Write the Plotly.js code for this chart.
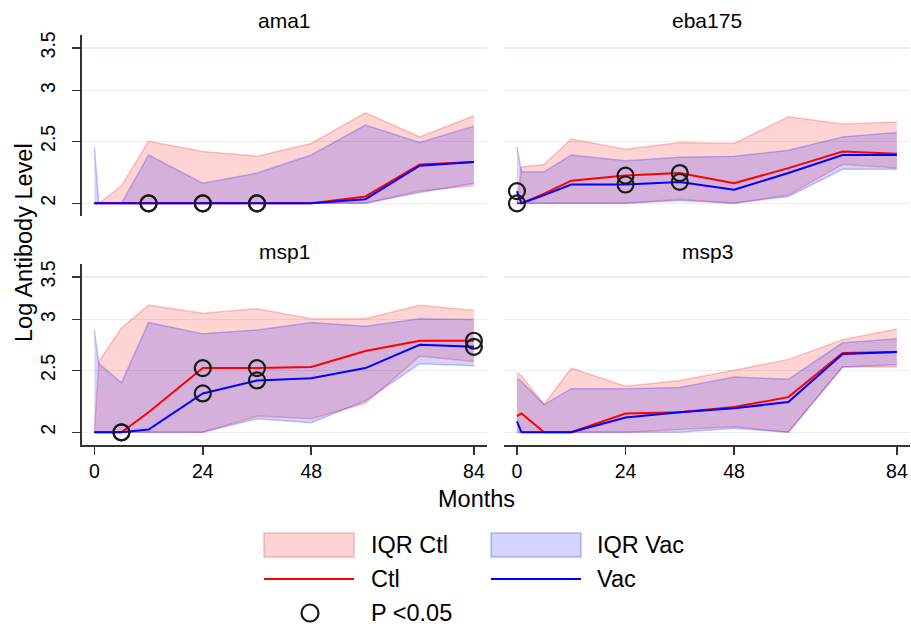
<!DOCTYPE html>
<html><head><meta charset="utf-8">
<script src="https://cdn.plot.ly/plotly-3.0.1.min.js"></script>
<style>html,body{margin:0;padding:0;background:#fff}#chart{width:911px;height:627px}</style>
</head><body><div id="chart"></div>
<script>
// ---- data ----
const months = [0, 1, 6, 12, 24, 36, 48, 60, 72, 84];
const panelNames = ['ama1', 'eba175', 'msp1', 'msp3'];

const ama1CtlLo  = [2, 2, 2, 2, 2, 2, 2, 2.00, 2.09, 2.13];
const ama1CtlHi  = [2.00, 2.00, 2.13, 2.50, 2.41, 2.37, 2.48, 2.77, 2.54, 2.74];
const ama1VacLo  = [2, 2, 2, 2, 2, 2, 2, 2.00, 2.08, 2.15];
const ama1VacHi  = [2.45, 2.00, 2.00, 2.38, 2.15, 2.23, 2.38, 2.65, 2.49, 2.64];
const ama1CtlMed = [2, 2, 2, 2, 2, 2, 2, 2.05, 2.30, 2.32];
const ama1VacMed = [2, 2, 2, 2, 2, 2, 2, 2.03, 2.29, 2.32];
const ama1Sig    = [12, 24, 36];

const eba175CtlLo  = [2, 2, 2, 2, 2, 2.03, 2.00, 2.06, 2.30, 2.27];
const eba175CtlHi  = [2.00, 2.28, 2.30, 2.52, 2.43, 2.49, 2.48, 2.73, 2.66, 2.68];
const eba175VacLo  = [2, 2, 2, 2, 2, 2.02, 2.00, 2.05, 2.26, 2.26];
const eba175VacHi  = [2.45, 2.24, 2.24, 2.38, 2.33, 2.36, 2.37, 2.42, 2.54, 2.58];
const eba175CtlMed = [2.00, 2.00, 2.07, 2.17, 2.21, 2.23, 2.15, 2.27, 2.41, 2.39];
const eba175VacMed = [2.09, 2.00, 2.06, 2.14, 2.14, 2.16, 2.10, 2.23, 2.38, 2.38];
const eba175Sig    = [0, 24, 36];

const msp1CtlLo  = [2, 2, 2, 2, 2, 2.12, 2.10, 2.22, 2.63, 2.58];
const msp1CtlHi  = [2.00, 2.58, 2.91, 3.16, 3.07, 3.12, 3.01, 3.01, 3.16, 3.10];
const msp1VacLo  = [2, 2, 2, 2, 2, 2.10, 2.07, 2.24, 2.56, 2.54];
const msp1VacHi  = [2.89, 2.56, 2.39, 2.97, 2.85, 2.89, 2.97, 2.93, 3.01, 3.00];
const msp1CtlMed = [2, 2, 2, 2.15, 2.52, 2.52, 2.53, 2.68, 2.78, 2.78];
const msp1VacMed = [2, 2, 2, 2.02, 2.30, 2.41, 2.43, 2.52, 2.74, 2.72];
const msp1Sig    = [6, 24, 36, 84];

const msp3CtlLo  = [2, 2, 2, 2, 2, 2.02, 2.04, 2.00, 2.53, 2.53];
const msp3CtlHi  = [2.48, 2.45, 2.21, 2.52, 2.36, 2.41, 2.50, 2.60, 2.79, 2.90];
const msp3VacLo  = [2, 2, 2, 2, 2, 2.00, 2.03, 2.00, 2.53, 2.55];
const msp3VacHi  = [2.43, 2.40, 2.21, 2.34, 2.34, 2.35, 2.44, 2.42, 2.76, 2.80];
const msp3CtlMed = [2.12, 2.14, 2.00, 2.00, 2.14, 2.15, 2.19, 2.27, 2.66, 2.67];
const msp3VacMed = [2.08, 2.00, 2.00, 2.00, 2.11, 2.15, 2.18, 2.23, 2.65, 2.67];
const msp3Sig    = [];

const yTickVals = [2, 2.5, 3, 3.5];
const yTickText = ['2', '2.5', '3', '3.5'];
const xTickVals = [0, 24, 48, 84];
const xTickText = ['0', '24', '48', '84'];
const legendLabels = ['IQR Ctl', 'IQR Vac', 'Ctl', 'Vac', 'P <0.05'];

// ---- build ----
const W = 911, H = 627;
const px = x => x / W, py = y => 1 - y / H;
const FONT = 'Liberation Sans, Arial, Helvetica, sans-serif';

const panels = [
  {lo: ama1CtlLo, hi: ama1CtlHi, vlo: ama1VacLo, vhi: ama1VacHi, cm: ama1CtlMed, vm: ama1VacMed, sig: ama1Sig},
  {lo: eba175CtlLo, hi: eba175CtlHi, vlo: eba175VacLo, vhi: eba175VacHi, cm: eba175CtlMed, vm: eba175VacMed, sig: eba175Sig},
  {lo: msp1CtlLo, hi: msp1CtlHi, vlo: msp1VacLo, vhi: msp1VacHi, cm: msp1CtlMed, vm: msp1VacMed, sig: msp1Sig},
  {lo: msp3CtlLo, hi: msp3CtlHi, vlo: msp3VacLo, vhi: msp3VacHi, cm: msp3CtlMed, vm: msp3VacMed, sig: msp3Sig}
];

const pinkFill = 'rgba(255,0,0,0.17)', pinkEdge = 'rgba(255,0,0,0.22)';
const blueFill = 'rgba(0,0,255,0.17)', blueEdge = 'rgba(0,0,255,0.22)';

const traces = [];
panels.forEach((p, i) => {
  const xa = 'x' + (i === 0 ? '' : i + 1), ya = 'y' + (i === 0 ? '' : i + 1);
  const base = {x: months, xaxis: xa, yaxis: ya, mode: 'lines', hoverinfo: 'skip', showlegend: false};
  traces.push(Object.assign({}, base, {y: p.lo, line: {color: pinkEdge, width: 1.5}}));
  traces.push(Object.assign({}, base, {y: p.hi, fill: 'tonexty', fillcolor: pinkFill, line: {color: pinkEdge, width: 1.5}}));
  traces.push(Object.assign({}, base, {y: p.vlo, line: {color: blueEdge, width: 1.5}}));
  traces.push(Object.assign({}, base, {y: p.vhi, fill: 'tonexty', fillcolor: blueFill, line: {color: blueEdge, width: 1.5}}));
  traces.push(Object.assign({}, base, {y: p.cm, line: {color: '#ff0000', width: 2}}));
  traces.push(Object.assign({}, base, {y: p.vm, line: {color: '#0000ff', width: 2}}));
  const sx = [], sy = [];
  p.sig.forEach(m => {
    const k = months.indexOf(m);
    sx.push(m, m); sy.push(p.cm[k], p.vm[k]);
  });
  traces.push({x: sx, y: sy, xaxis: xa, yaxis: ya, mode: 'markers', showlegend: false, hoverinfo: 'skip',
    marker: {symbol: 'circle-open', size: 16, color: '#1a1a1a', line: {width: 2.2, color: '#1a1a1a'}}});
});

const domL = [px(81.7), px(487)], domR = [px(504.3), px(910)];
const domT = [py(216), py(35)], domB = [py(445), py(264)];
const yRange = [0.2812, 0.5640];
const xRange = [-2.8, 86.9];

function yax(dom, anchor, left) {
  return {domain: dom, anchor: anchor, type: 'log', range: yRange, tickmode: 'array',
    tickvals: yTickVals, ticktext: yTickText, showticklabels: left, tickangle: -90,
    ticks: left ? 'outside' : '', ticklen: 8, tickwidth: 1.5, tickcolor: '#333',
    ticklabelstandoff: 9,
    showline: left, linecolor: '#333', linewidth: 1.5,
    showgrid: true, gridcolor: '#e6eff1', gridwidth: 1.5, zeroline: false,
    tickfont: {family: FONT, size: 19.5, color: '#000'}, fixedrange: true};
}
function xax(dom, anchor, bottom) {
  return {domain: dom, anchor: anchor, range: xRange, tickmode: 'array',
    tickvals: xTickVals, ticktext: xTickText, showticklabels: bottom,
    ticks: bottom ? 'outside' : '', ticklen: 8, tickwidth: 1.5, tickcolor: '#333',
    showline: bottom, linecolor: '#333', linewidth: 1.5, showgrid: false, zeroline: false,
    tickfont: {family: FONT, size: 19.5, color: '#000'}, fixedrange: true};
}

const annotations = [];
const titlePos = [[284, 20], [707, 20], [284, 251], [707, 251]];
panelNames.forEach((n, i) => annotations.push({text: n, xref: 'paper', yref: 'paper',
  x: px(titlePos[i][0]), y: py(titlePos[i][1]), xanchor: 'center', yanchor: 'middle', showarrow: false,
  font: {family: FONT, size: 21, color: '#000'}}));
annotations.push({text: 'Months', xref: 'paper', yref: 'paper', x: px(477), y: py(499),
  xanchor: 'center', yanchor: 'middle', showarrow: false, font: {family: FONT, size: 23.5, color: '#000'}});
annotations.push({text: 'Log Antibody Level', xref: 'paper', yref: 'paper', x: px(24), y: py(243),
  xanchor: 'center', yanchor: 'middle', textangle: -90, showarrow: false, font: {family: FONT, size: 23.5, color: '#000'}});

const legText = [[369, 545], [595, 545], [369, 579], [595, 579], [369, 613]];
legendLabels.forEach((t, i) => annotations.push({text: t, xref: 'paper', yref: 'paper',
  x: px(legText[i][0]), y: py(legText[i][1]), xanchor: 'left', yanchor: 'middle', showarrow: false,
  font: {family: FONT, size: 23.5, color: '#000'}}));

const shapes = [
  {type: 'rect', xref: 'paper', yref: 'paper', x0: px(264), x1: px(354), y0: py(557), y1: py(533),
    fillcolor: pinkFill, line: {color: 'rgba(255,0,0,0.25)', width: 1.5}},
  {type: 'rect', xref: 'paper', yref: 'paper', x0: px(491), x1: px(581), y0: py(557), y1: py(533),
    fillcolor: blueFill, line: {color: 'rgba(0,0,255,0.25)', width: 1.5}},
  {type: 'line', xref: 'paper', yref: 'paper', x0: px(264), x1: px(354), y0: py(579), y1: py(579),
    line: {color: '#ff0000', width: 2}},
  {type: 'line', xref: 'paper', yref: 'paper', x0: px(491), x1: px(581), y0: py(579), y1: py(579),
    line: {color: '#0000ff', width: 2}},
  {type: 'circle', xref: 'paper', yref: 'paper', x0: px(301.5), x1: px(318.5), y0: py(621.5), y1: py(604.5),
    line: {color: '#1a1a1a', width: 2.2}}
];

const layout = {
  width: W, height: H, margin: {l: 0, r: 0, t: 0, b: 0},
  paper_bgcolor: '#fff', plot_bgcolor: '#fff', showlegend: false,
  font: {family: FONT},
  xaxis: xax(domL, 'y', false), yaxis: yax(domT, 'x', true),
  xaxis2: xax(domR, 'y2', false), yaxis2: yax(domT, 'x2', false),
  xaxis3: xax(domL, 'y3', true), yaxis3: yax(domB, 'x3', true),
  xaxis4: xax(domR, 'y4', true), yaxis4: yax(domB, 'x4', false),
  annotations: annotations, shapes: shapes
};

Plotly.newPlot('chart', traces, layout, {displayModeBar: false, staticPlot: true});
</script>
</body></html>
